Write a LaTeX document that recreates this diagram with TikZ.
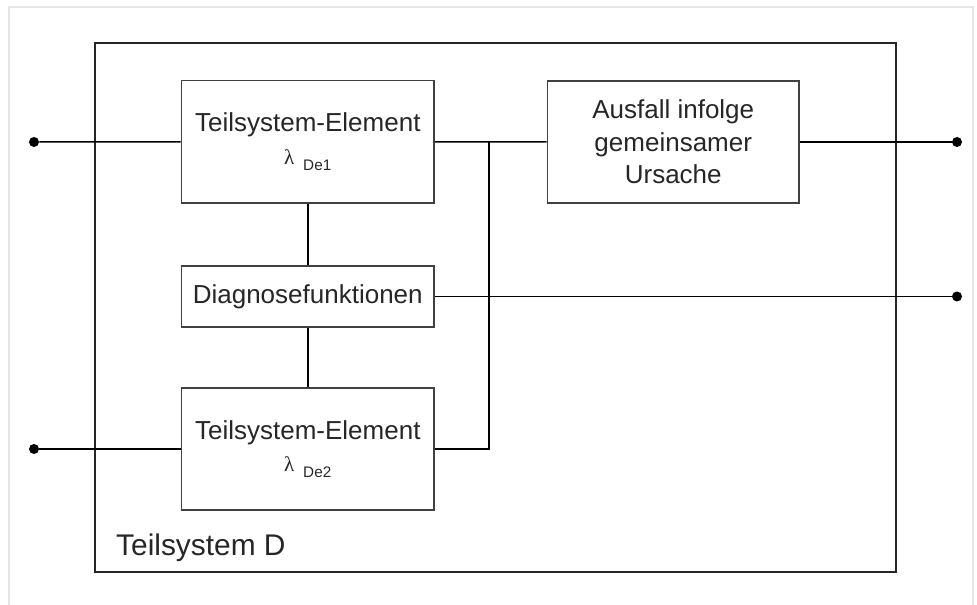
\documentclass[tikz,border=0pt]{standalone}
\usepackage{fontspec}
\setmainfont{Liberation Sans}
\newfontfamily\griech{Liberation Serif}

\tikzset{
  teil/.style={draw=black!75,line width=0.9pt,minimum width=5.05cm,minimum height=2.45cm,
    align=center,inner sep=0pt,text=black!85,font=\fontsize{14.8}{17.5}\selectfont},
  diagbox/.style={teil,minimum height=1.22cm},
  verb/.style={black,line width=0.85pt},
  punkt/.style={circle,fill=black,inner sep=0pt,minimum size=0.2cm},
}
\newcommand{\lamb}[1]{{\griech\fontsize{12}{12}\selectfont λ}\hspace{5pt}{\fontsize{8.7}{9}\selectfont\raisebox{-3.5pt}{#1}}}

\begin{document}
\begin{tikzpicture}
\useasboundingbox (0,0) rectangle (19.54,12.1);
%Rahmen
\draw[black!10,line width=0.8pt] (0.18,0) -- (0.18,11.96) -- (19.46,11.96) -- (19.46,0);
\draw[black!85,line width=1.4pt] (1.9,0.66) rectangle (17.92,11.24);
\node[anchor=base west,text=black!85,font=\fontsize{17}{18}\selectfont] (name) at (2.2,0.98) {Teilsystem D};

%Bloecke
\node[teil] (el1) at (6.155,9.265) {Teilsystem-Element\\[1pt] \lamb{De1}};
\node[diagbox] (diag) at (6.155,6.17) {Diagnosefunktionen};
\node[teil] (el2) at (6.155,3.12) {Teilsystem-Element\\[1pt] \lamb{De2}};
\node[teil,minimum width=5.03cm,font=\fontsize{14.8}{18.4}\selectfont] (ccf) at (13.465,9.26) {Ausfall infolge\\ gemeinsamer\\ Ursache};

%Anschluesse
\node[punkt] (in1) at (0.68,9.26) {};
\node[punkt] (in2) at (0.68,3.12) {};
\node[punkt] (out1) at (19.14,9.26) {};
\node[punkt] (out2) at (19.14,6.17) {};
\coordinate (knoten) at (9.78,9.26);

%Verbindungen
\draw[verb] (in1) -- (el1);
\draw[verb] (in2) -- (el2);
\draw[verb] (el1) -- (ccf);
\draw[verb] (el2) -| (knoten);
\draw[verb] (ccf) -- (out1);
\draw[verb] (diag) -- (out2);
\draw[verb] (el1) -- (diag);
\draw[verb] (diag) -- (el2);
\end{tikzpicture}
\end{document}
